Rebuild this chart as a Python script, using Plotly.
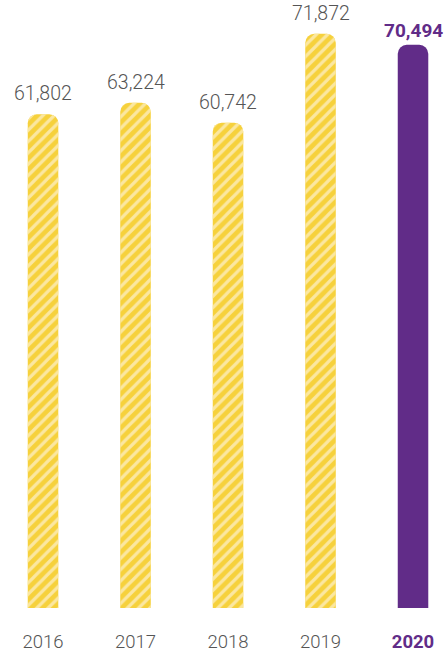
import plotly.graph_objects as go

years = ["2016", "2017", "2018", "2019", "2020"]
values = [61802, 63224, 60742, 71872, 70494]
highlight = [False, False, False, False, True]

GOLD = "#F6D13C"
LIGHT = "#FBE7A1"
PURPLE = "#612C88"
GRAY = "#555555"

x = list(range(len(years)))
fig = go.Figure()
# base solid bars (rounded)
fig.add_trace(go.Bar(
    x=x, y=values, width=0.33,
    marker=dict(color=[PURPLE if h else GOLD for h in highlight], line=dict(width=0)),
    hoverinfo="skip",
))
# stripe overlay on the non-highlighted bars
fig.add_trace(go.Bar(
    x=[xi for xi, h in zip(x, highlight) if not h],
    y=[v for v, h in zip(values, highlight) if not h],
    width=0.33,
    marker=dict(
        color="rgba(0,0,0,0)", line=dict(width=0),
        pattern=dict(shape="/", fgcolor=LIGHT, bgcolor="rgba(0,0,0,0)",
                     fgopacity=1, size=8, solidity=0.4, fillmode="replace"),
    ),
    hoverinfo="skip",
))

for i, (v, h) in enumerate(zip(values, highlight)):
    fig.add_annotation(
        x=x[i], y=v, yanchor="bottom", yshift=1 if h else 7, showarrow=False,
        text=(f"<b>{v:,}</b>" if h else f"{v:,}"),
        font=dict(family="Roboto", size=19.5 if not h else 19, color=PURPLE if h else GRAY,
                  weight=700 if h else 300),
    )

ticktext = [f"<b><span style='color:{PURPLE}'>{y}</span></b>" if h else y
            for y, h in zip(years, highlight)]

fig.update_layout(
    width=444, height=652,
    margin=dict(l=0, r=0, t=0, b=44),
    plot_bgcolor="white", paper_bgcolor="white",
    barmode="overlay",
    barcornerradius=9,
    showlegend=False,
    xaxis=dict(range=[-0.465, 4.335], tickvals=x, ticktext=ticktext,
               showgrid=False, zeroline=False, showline=False, ticks="",
               ticklabelstandoff=20,
               tickfont=dict(family="Roboto", size=18.5, color=GRAY, weight=300)),
    yaxis=dict(range=[0, 76100], visible=False, showgrid=False),
)

fig.write_html("out.html")
